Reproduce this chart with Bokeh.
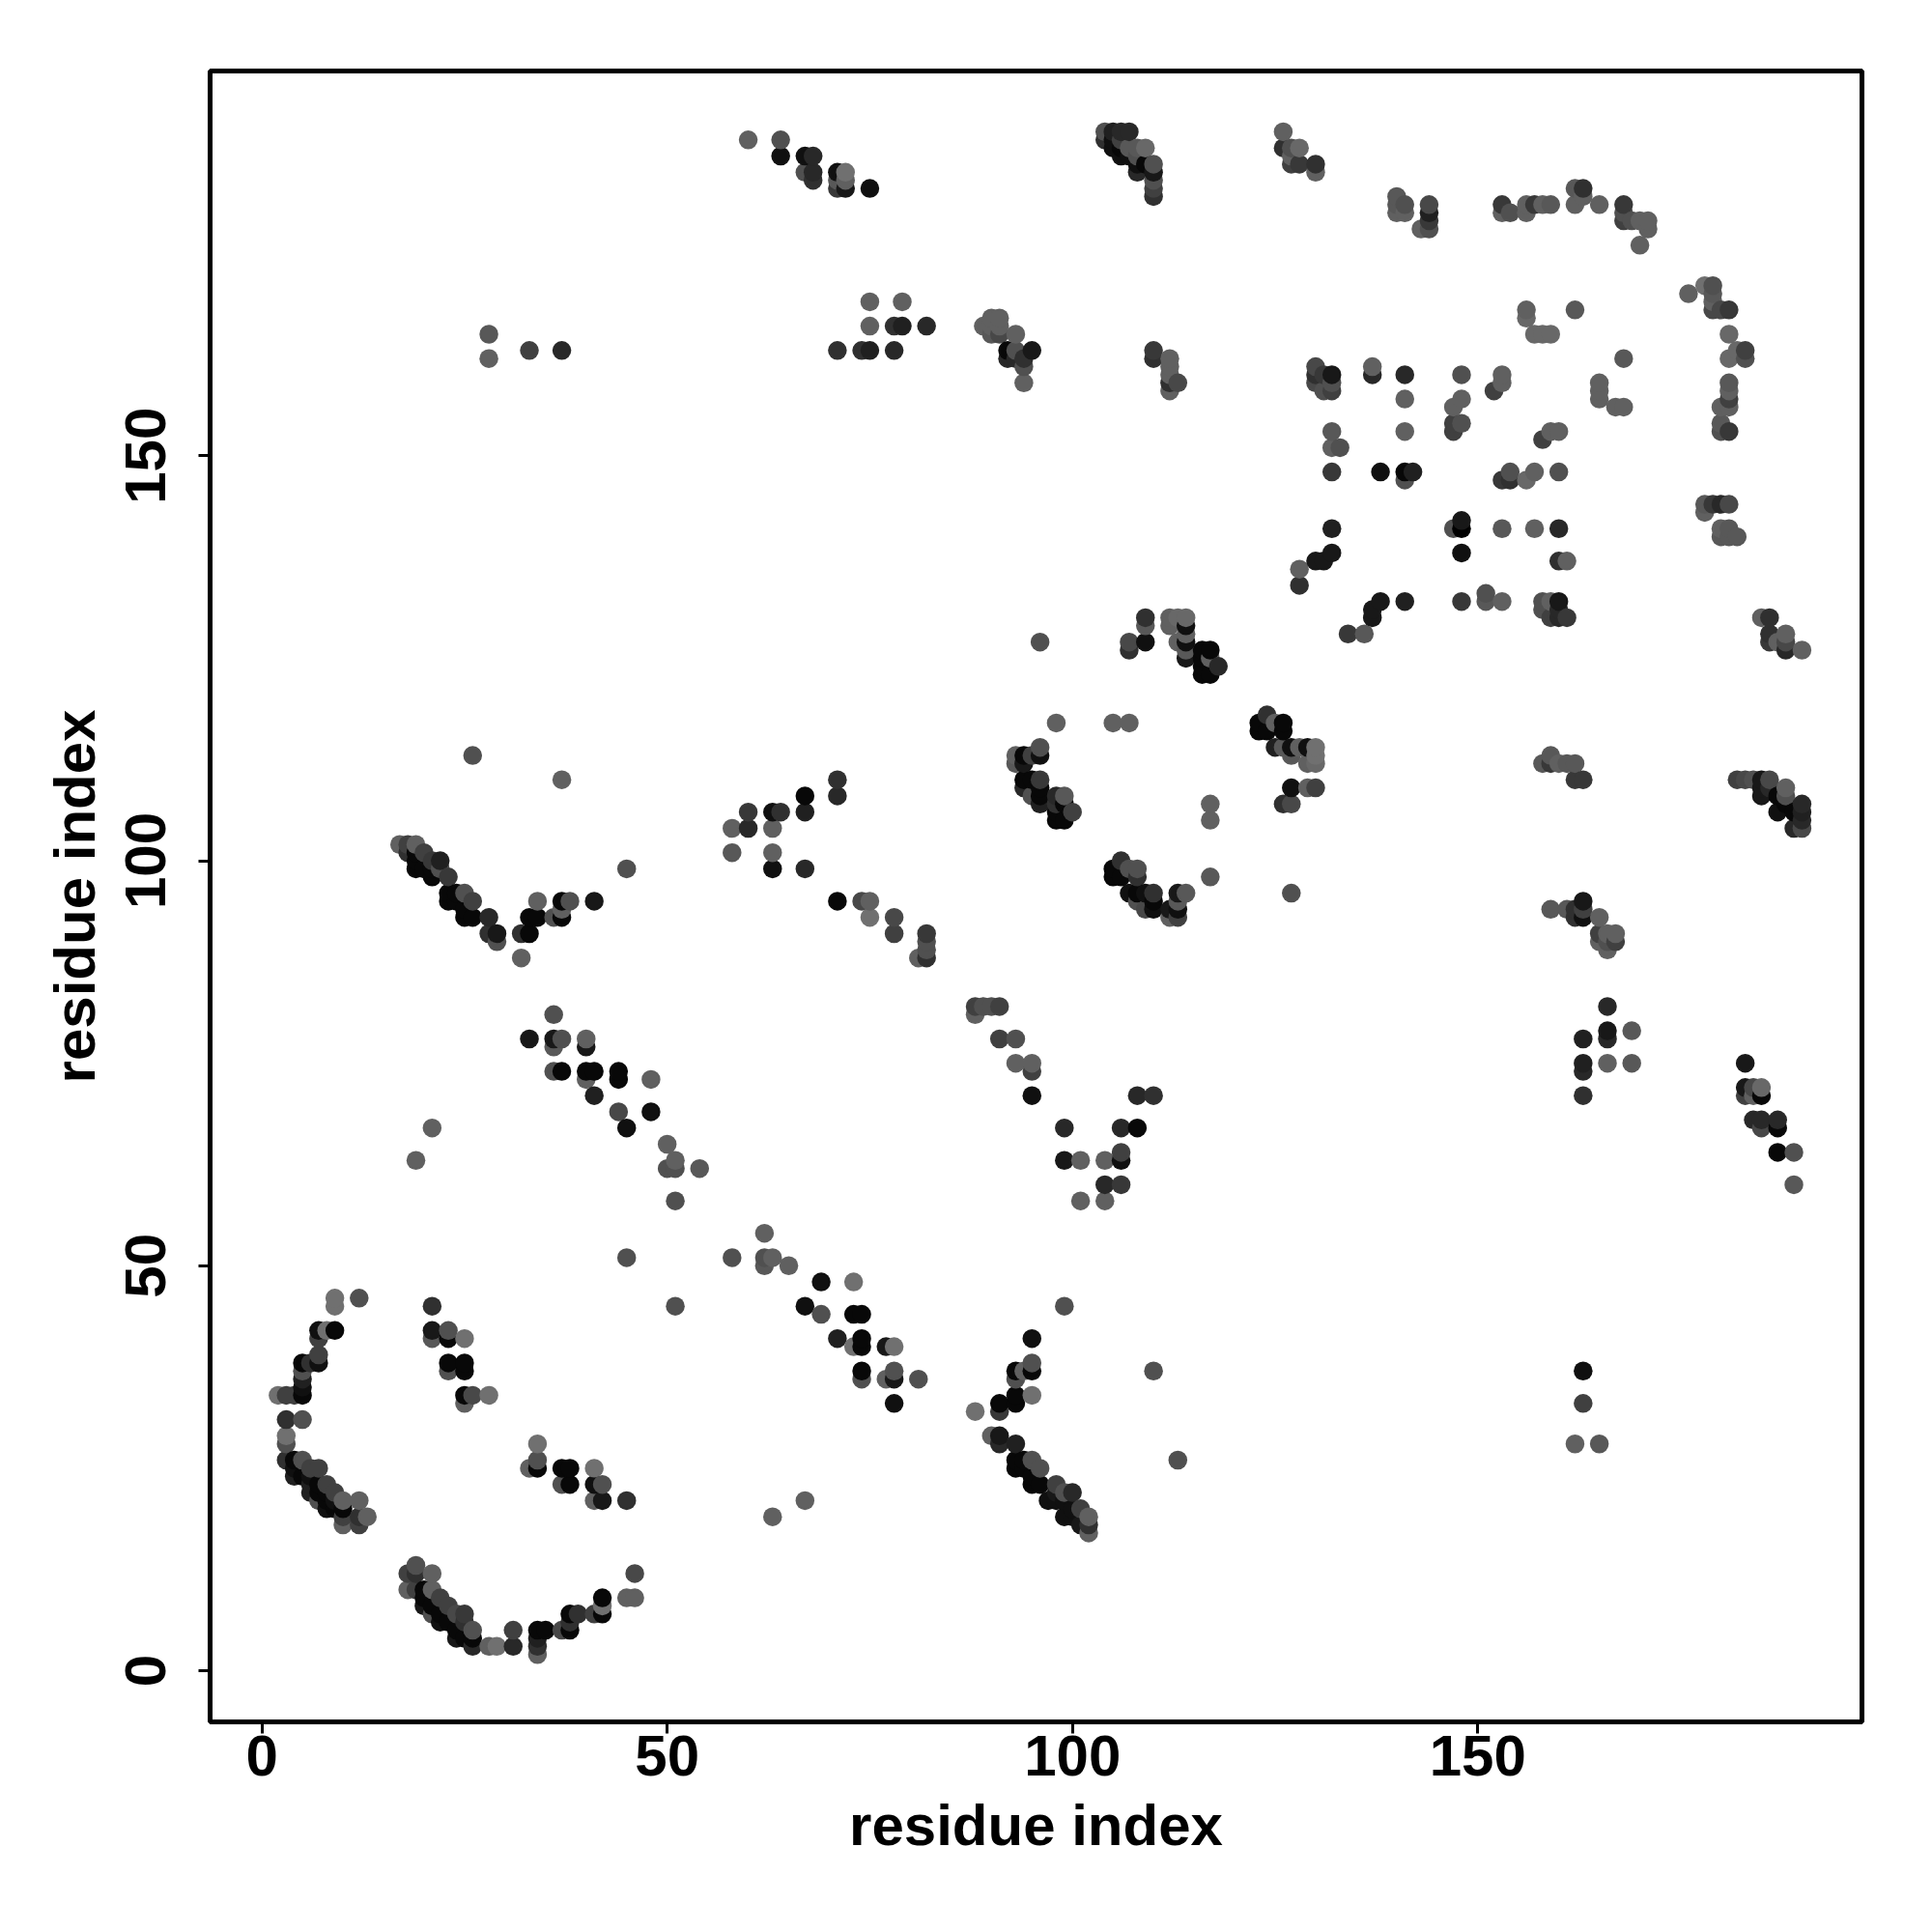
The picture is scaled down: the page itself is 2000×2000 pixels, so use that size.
from bokeh.plotting import figure
from bokeh.models import ColumnDataSource, FixedTicker, Range1d
from bokeh.embed import file_html
from bokeh.resources import INLINE

tick_values = [0, 50, 100, 150]
x_label = "residue index"
y_label = "residue index"

# contact map points: residue i, residue j, shade (darkness code)
a_x = [9,9,12,7,7,8,9,7,7,5,6,5,5,5,5,2,3,4,3,5,3,3]
a_y = [46,45,46,42,41,42,42,39,38,38,38,37,36,35,34,34,34,34,31,31,29,28]
a_s = [70,70,50,10,40,70,5,40,10,5,30,50,20,10,5,70,40,40,30,50,70,50]

b_x = [3,4,5,4,6,7,4,5,6,8,7,6,6,7,9,8,7,8,10,12,9,8,9,10,10,12,13,10,12]
b_y = [26,26,26,25,25,25,24,24,24,23,23,23,22,22,22,22,21,21,21,21,21,20,20,20,19,19,19,18,18]
b_s = [30,5,50,10,40,40,20,5,10,40,5,20,20,5,40,5,50,5,60,60,10,10,5,5,40,30,60,60,40]

c_x = [21,21,21,23,23,25,23,23,25,25,25,26,28,25,34,34,34,33,37,38,37,38,41,41,42,41,42,45,45,58,51]
c_y = [45,42,41,42,41,41,38,37,38,37,34,34,34,33,28,26,25,25,25,25,23,23,25,23,23,21,21,21,51,51,45]
c_s = [30,15,55,50,5,70,5,50,5,5,5,45,70,60,70,50,5,60,5,5,50,5,70,10,50,60,15,30,50,50,50]

d_x = [19,18,19,21,18,19,20,21,20,22,20,21,23,21,22,24,25,22,23,25,24,26,24,25,26,26,28,29,31,31,34,35,34,34,34,37,38,38,39,38,41,42,42,42,45,46,46]
d_y = [13,12,12,12,10,10,10,10,9,9,8,8,8,7,7,7,7,6,6,6,5,5,4,4,4,3,3,3,5,3,5,5,4,3,2,5,5,7,7,6,7,7,8,9,9,9,12]
d_s = [50,40,30,60,60,40,5,60,5,40,15,5,40,50,5,45,35,10,5,30,5,50,15,5,5,25,60,70,40,25,5,5,20,30,60,45,5,5,30,30,40,5,70,5,60,60,45]

e_x = [62,62,62,63,65,69,73,67,69,73,74,71,74,74,73,77,78,74,74,77,78,78,81,78,63,67]
e_y = [54,51,50,51,50,48,48,45,44,44,44,41,41,40,40,40,40,37,36,36,37,36,36,33,19,21]
e_s = [60,50,55,60,60,10,70,10,50,5,5,20,5,5,70,15,70,5,50,60,50,15,50,10,60,60]

f_x = [99,95,95,95,94,93,93,93,93,95,91,91,88,110,113,90,91,91,93,93,93,94,95,94,96,95,95,96,98,98,99,100,98,99,101,100,99,100,102,102,101,102,97]
f_y = [45,41,38,37,37,37,36,34,33,34,33,32,32,37,26,29,29,28,28,26,25,26,26,25,25,24,23,23,23,22,22,22,21,21,20,20,19,19,19,18,18,17,21]
f_s = [50,10,50,5,60,5,50,5,5,70,5,35,70,50,50,60,15,25,20,5,5,5,50,5,50,5,5,5,40,15,50,25,10,10,40,10,10,10,60,30,15,60,10]

g_x = [17,18,19,18,19,20,19,21,22,19,20,21,22,23,21,23,24,25,23,24,26,25,25,26,28,28,29,29,32,33,33,34,34,36,37,37,37,38,41,32,45,37,26]
g_y = [102,102,102,101,101,101,100,100,100,99,99,98,99,98,99,96,96,96,95,95,95,94,93,93,93,91,91,90,91,91,93,93,95,93,93,95,94,95,95,88,99,110,113]
g_s = [60,40,60,30,5,40,5,35,20,5,5,5,50,35,5,5,5,50,5,5,40,5,5,5,25,30,15,50,30,5,5,5,60,50,5,5,60,50,15,60,50,60,50]

h_x = [36,33,36,37,36,40,40,36,37,40,41,44,44,40,48,41,44,48,45,50,51,50,51,54,51,21,19]
h_y = [81,78,78,78,77,78,77,74,74,74,74,74,73,73,73,71,69,69,67,65,63,62,62,62,58,67,63]
h_s = [50,15,15,50,55,60,15,50,5,5,5,5,5,60,60,20,45,10,10,60,60,50,50,55,50,60,60]

i_x = [71,71,67,67,63,64,60,60,58,63,58,63,63,67,71,74,75,75,78,78,82,82,82,82,81]
i_y = [110,108,108,106,106,106,106,104,104,104,101,101,99,99,95,95,95,93,93,91,91,90,89,88,88]
i_s = [30,25,5,20,10,30,35,25,60,60,55,60,10,25,5,45,60,70,45,40,35,50,50,30,60]

j_x = [109,109,109,107,107,112,113,114,112,114,114,114,113,114,114,116,117,116,117,116,118,116,117,96,98,105,107]
j_y = [130,129,127,127,126,130,130,130,129,129,128,127,127,126,125,126,126,125,125,124,124,123,123,127,117,117,117]
j_s = [30,55,10,45,30,60,65,65,60,10,60,10,60,55,15,5,5,5,60,5,25,5,5,50,60,60,60]

k_x = [124,123,123,125,126,126,124,125,126,127,127,129,130,129,130,130,128,127,129,130,126,127,117,117,117,127]
k_y = [118,117,116,117,117,116,116,114,114,114,113,114,114,112,113,112,114,109,109,109,107,107,107,105,98,96]
k_s = [30,5,5,60,5,5,5,20,55,10,55,10,70,60,70,65,60,10,60,40,30,45,60,60,55,50]

l_x = [93,93,94,94,95,96,96,94,95,96,94,95,96,96,96,98,99,98,99,100,98,99,98]
l_y = [113,112,113,112,113,114,113,110,110,110,109,108,109,108,107,108,108,107,107,106,105,105,106]
l_s = [60,55,5,15,40,50,10,5,5,35,25,50,5,5,20,25,55,30,5,40,5,5,5]

m_x = [106,105,105,107,108,106,108,107,108,109,110,108,109,110,110,113,114,113,113,112,112,113]
m_y = [100,99,98,99,99,98,98,96,96,96,96,95,94,95,94,96,96,95,94,94,93,93]
m_s = [30,5,5,50,50,5,30,10,5,10,30,50,45,5,10,15,55,55,10,15,60,40]

n_x = [88,89,90,91,88,91,93,93,95,95,95,108,110,99,106,108,106,106,99,101,104,104,106,101,104]
n_y = [82,82,82,82,81,78,78,75,75,74,71,71,71,67,67,67,64,63,63,63,63,60,60,58,58]
n_s = [40,50,50,40,60,40,50,60,60,40,10,25,30,25,25,5,40,10,15,60,60,25,35,60,60]

o_x = [156,156,157,158,159,162,168,165,165,165,167,168]
o_y = [168,167,165,165,165,168,162,159,158,157,156,156]
o_s = [60,65,65,65,65,55,55,60,60,60,60,60]

p_x = [176,178,179,179,179,179,180,181,181,181,182,183,183,181,181,181,180,181,180,180,181,178,179,180,181,178,180,181,180,181,182,185,186,186,186,187,188,188,188,190]
p_y = [170,171,171,170,169,168,168,168,165,162,163,163,162,159,158,157,156,156,154,153,153,144,144,144,144,143,141,141,140,140,140,130,130,128,127,127,128,127,126,126]
p_s = [60,70,50,55,60,45,45,35,65,65,65,40,50,55,60,40,60,60,55,50,35,55,35,25,45,60,60,55,55,55,55,60,30,30,35,60,60,45,25,60]

q_x = [130,130,130,131,132,132,131,132,137,137,141,141,141,132,132,133,132,138,141,142,141,148,148,147,147,148,147,152,153,153,158,159,160,153,154,154,156,157,160]
q_y = [161,160,159,160,160,159,158,158,161,160,160,157,153,153,151,151,148,148,148,148,147,160,157,156,154,154,153,158,160,159,152,153,153,147,148,147,147,148,148]
q_s = [45,30,45,35,15,50,50,40,60,25,25,60,60,55,60,50,35,10,5,20,50,50,60,60,40,50,40,40,60,60,40,60,60,35,50,30,65,60,50]

r_x = [132,147,148,148,148,153,157,160,160,161,132,131,130,128,128,138,137,137,134,136,141,148,151,151,153,158,158,159,160,160,159,160,161]
r_y = [141,141,142,141,138,141,141,141,137,137,138,137,137,136,134,132,131,130,128,128,132,132,133,132,132,132,131,132,132,131,130,130,130]
r_s = [20,50,15,0,10,55,60,25,30,60,15,15,15,60,30,15,15,15,35,55,20,35,50,55,60,50,50,60,15,25,40,25,35]

s_x = [60,64,64,67,68,67,68,68,71,71,71,72,72,72,75]
s_y = [189,189,187,187,187,185,185,184,185,184,183,185,184,183,183]
s_s = [60,50,10,10,25,50,25,30,10,55,35,70,60,15,10]

t_x = [104,104,105,106,107,105,106,105,106,107,108,109,106,107,108,108,109,110,108,110,110,110,110]
t_y = [190,189,190,190,190,189,189,188,188,188,188,188,187,187,187,186,186,186,185,185,184,183,182]
t_s = [50,30,20,25,25,10,40,10,5,55,55,65,10,10,50,10,5,50,25,15,50,40,30]

u_x = [126,126,127,128,127,127,128,130,130,140,140,141,140,141,144,144,144,143,144,153,153,154,156,156,157,158,159,162,163,163,162,165,168,168,168,169,170,171,171,170]
u_y = [190,188,188,188,187,186,186,186,185,182,181,181,180,180,181,180,179,178,178,181,180,180,181,180,181,181,181,183,183,182,181,181,181,180,179,179,179,179,178,176]
u_s = [60,30,50,65,60,40,35,30,60,55,55,50,60,60,45,20,35,60,50,35,60,50,60,60,35,60,55,55,30,60,60,60,35,50,40,50,60,60,60,60]

v_x = [75,79,75,78,79,82,71,74,75,78,89,90,91,90,91,90,91,93,92,92,93,93,95,94,94,94,110,110,112,112,112,113,112,112,28,28,33,37]
v_y = [169,169,166,166,166,166,163,163,163,163,166,167,167,166,166,165,165,165,163,162,163,162,163,162,161,159,163,162,162,161,160,159,159,158,165,162,163,163]
v_s = [60,60,60,30,20,25,30,30,20,25,60,60,60,60,60,55,45,60,5,25,50,25,15,30,50,60,35,30,60,60,60,45,30,60,55,60,40,25]

w_x = [159,158,159,160,161,162,162,163,182,183,184,185,186,185,185,186,188,187,188,187,188,189,190,190,190,189,190]
w_y = [113,112,112,112,112,112,110,110,110,110,110,110,110,109,108,109,109,108,108,106,107,106,107,106,105,104,104]
w_s = [55,55,35,60,55,55,35,35,40,45,50,15,45,15,15,25,60,5,50,10,5,5,25,20,25,25,45]

x_x = [159,161,162,163,163,162,163,165,165,166,167,165,166,167,166,166,166,166,163,169,163,163,166,169,163,183,183,183,184,184,185,185,184,185,185,187,187,187,189,189,162,165,163,163]
x_y = [94,94,94,95,94,93,93,93,91,91,91,90,90,90,89,82,79,78,78,79,75,74,75,75,71,75,72,71,72,71,72,71,68,68,67,68,67,64,64,60,28,28,33,37]
x_s = [55,55,30,15,40,30,10,60,40,60,60,60,50,40,60,25,15,25,20,55,20,25,60,55,30,15,15,40,45,60,65,5,25,25,45,25,5,5,50,55,60,55,40,10]

groups = [
    (a_x,a_y,a_s),(b_x,b_y,b_s),(c_x,c_y,c_s),(d_x,d_y,d_s),(e_x,e_y,e_s),(f_x,f_y,f_s),
    (g_x,g_y,g_s),(h_x,h_y,h_s),(i_x,i_y,i_s),(j_x,j_y,j_s),(k_x,k_y,k_s),(l_x,l_y,l_s),
    (m_x,m_y,m_s),(n_x,n_y,n_s),(o_x,o_y,o_s),(p_x,p_y,p_s),(q_x,q_y,q_s),(r_x,r_y,r_s),
    (s_x,s_y,s_s),(t_x,t_y,t_s),(u_x,u_y,u_s),(v_x,v_y,v_s),(w_x,w_y,w_s),(x_x,x_y,x_s),
]
rows = []
for n, (gx, gy, gs) in enumerate(groups):
    assert len(gx) == len(gy) == len(gs), (n, len(gx), len(gy), len(gs))
    rows.extend(zip(gx, gy, gs))
# the points overlap in residue order: later ones lie on top
rows.sort(key=lambda r: (r[0], r[1]))

def gray(code):
    g = round(code * 1.6)
    return f"#{g:02x}{g:02x}{g:02x}"

source = ColumnDataSource(data=dict(
    x=[r[0] for r in rows],
    y=[r[1] for r in rows],
    color=[gray(r[2]) for r in rows],
))

p = figure(
    frame_width=1710, frame_height=1709,
    x_range=Range1d(-6.39, 197.4), y_range=Range1d(-6.32, 197.5),
    output_backend="svg", toolbar_location=None,
    min_border_left=217, min_border_top=73, min_border_right=50, min_border_bottom=200,
    background_fill_color="white", border_fill_color="white",
)
p.scatter("x", "y", source=source, size=19.5, marker="circle", fill_color="color", line_color=None)

p.grid.visible = False
p.outline_line_color = "black"
p.outline_line_width = 5

FONT = "Liberation Sans"
for ax in (p.xaxis[0], p.yaxis[0]):
    ax.ticker = FixedTicker(ticks=tick_values)
    ax.minor_tick_line_color = None
    ax.axis_line_color = None
    ax.major_tick_line_color = "black"
    ax.major_tick_line_width = 3
    ax.major_tick_in = 0
    ax.major_tick_out = 12
    ax.major_label_text_font = FONT
    ax.major_label_text_font_style = "bold"
    ax.major_label_text_font_size = "60px"
    ax.major_label_text_color = "black"
    ax.axis_label_text_font = FONT
    ax.axis_label_text_font_style = "bold"
    ax.axis_label_text_font_size = "60px"
    ax.axis_label_text_color = "black"
p.xaxis[0].axis_label = x_label
p.yaxis[0].axis_label = y_label
p.yaxis[0].major_label_orientation = "vertical"
p.xaxis[0].major_label_standoff = 2
p.yaxis[0].major_label_standoff = 34
p.xaxis[0].axis_label_standoff = 15
p.yaxis[0].axis_label_standoff = 17

open("out.html", "w").write(file_html(p, INLINE))
